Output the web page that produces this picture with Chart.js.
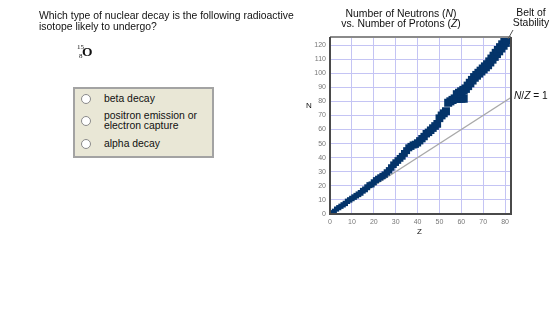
<!DOCTYPE html>
<html>
<head>
<meta charset="utf-8">
<script src="https://cdn.jsdelivr.net/npm/chart.js@4"></script>
<style>
  html, body { margin: 0; padding: 0; background: #fff; }
  #wrap { position: relative; width: 560px; height: 315px; overflow: hidden; font-family: "Liberation Sans", Arial, sans-serif; color: #111; }
  canvas { position: absolute; left: 0; top: 0; }
  .t { position: absolute; white-space: nowrap; }
  #question { left: 39px; top: 11px; font-size: 10.4px; line-height: 10.5px; }
  #iso { left: 77px; top: 43px; font-family: "Liberation Serif", serif; }
  #iso .sup { position: absolute; left: 0; top: 0; font-size: 7px; }
  #iso .sub { position: absolute; left: 2px; top: 9px; font-size: 7px; }
  #iso .el { position: absolute; left: 5px; top: 1px; font-size: 13.5px; font-weight: bold; }
  #box { position: absolute; left: 73px; top: 87px; width: 137px; height: 67px; background: #e9e7d6; border: 2px solid #a3a3a3; }
  .radio { position: absolute; width: 8px; height: 8px; border-radius: 50%; background: #fff; border: 1.5px solid #8a8a8a; }
  .opt { position: absolute; font-size: 10.4px; line-height: 10px; }
  #title { left: 336px; top: 9px; width: 130px; text-align: center; font-size: 10.4px; line-height: 10px; }
  #belt { left: 503px; top: 8px; width: 56px; text-align: center; font-size: 10.4px; line-height: 10px; }
  #nz { left: 514px; top: 90px; font-size: 10.2px; }
  #ntitle { left: 306px; top: 101px; font-size: 8px; }
  #ztitle { left: 417px; top: 227px; font-size: 8px; }
</style>
</head>
<body>
<div id="wrap">
  <canvas id="c" width="560" height="315"></canvas>
  <div class="t" id="question">Which type of nuclear decay is the following radioactive<br>isotope likely to undergo?</div>
  <div class="t" id="iso"><span class="sup">15</span><span class="sub">8</span><span class="el">O</span></div>
  <div id="box">
    <div class="radio" style="left:6px;top:4.5px"></div>
    <div class="opt" style="left:29px;top:5px">beta decay</div>
    <div class="radio" style="left:6px;top:26.5px"></div>
    <div class="opt" style="left:29px;top:22px">positron emission or<br>electron capture</div>
    <div class="radio" style="left:6px;top:49.5px"></div>
    <div class="opt" style="left:29px;top:50px">alpha decay</div>
  </div>
  <div class="t" id="title">Number of Neutrons (<i>N</i>)<br>vs. Number of Protons (<i>Z</i>)</div>
  <div class="t" id="belt">Belt of<br>Stability</div>
  <div class="t" id="nz"><i>N</i>/<i>Z</i> = 1</div>
  <div class="t" id="ntitle">N</div>
  <div class="t" id="ztitle">Z</div>
</div>
<script>
// Belt of stability: protons (Z) and neutrons (N)
const beltZ = [1,2,3,4,5,6,7,8,9,10,11,12,13,14,15,16,17,18,19,20,
  21,22,23,24,25,26,27,28,29,30,31,32,33,34,35,36,37,38,39,40,
  41,42,43,44,45,46,47,48,49,50,51,52,53,54,55,56,57,58,59,60,61,
  58,59,60,61,62,63,64,65,66,67,68,69,70,71,72,73,74,75,76,77,78,79,80,81,82];
const beltN = [1,2,3.5,4.5,5.5,6.5,7.5,9,10,11,12,13,14,15,16.5,17.5,19,20.5,21,22.5,
  24,25,26,27,28,29.5,31,33,35,36.5,38,39.5,41,43,45,47,48,49,49.5,50.5,
  52,53.5,55,57,58,59.5,61,62.5,64,68,70,71.5,73,79,80,81,82,82,82,82,82,
  85,86,87,88,89,91,93,95,97,98.5,100,101.5,103,104.5,106,108,110,112,114,116,118,120,122,124];
// N/Z = 1 reference line
const ratioZ = [0, 83];
const ratioN = [0, 83];
// Axis ticks
const zTicks = [0,10,20,30,40,50,60,70,80];
const nTicks = [0,10,20,30,40,50,60,70,80,90,100,110,120];

const beltData = beltZ.map((z, i) => ({x: z, y: beltN[i]}));
const ratioData = ratioZ.map((z, i) => ({x: z, y: ratioN[i]}));

const framePlugin = {
  id: 'frame',
  afterDraw(chart) {
    const {ctx, chartArea: a} = chart;
    ctx.save();
    ctx.strokeStyle = '#8a8a8a';
    ctx.lineWidth = 2;
    ctx.beginPath();
    ctx.moveTo(a.left, a.top); ctx.lineTo(a.right, a.top);
    ctx.stroke();
    ctx.strokeStyle = '#4a4a4a';
    ctx.beginPath();
    ctx.moveTo(a.right, a.top); ctx.lineTo(a.right, a.bottom);
    ctx.lineTo(a.left, a.bottom); ctx.lineTo(a.left, a.top);
    ctx.stroke();
    // pointer from "Belt of Stability" to the top of the belt
    ctx.strokeStyle = '#555';
    ctx.lineWidth = 1;
    ctx.beginPath();
    ctx.moveTo(a.right + 2, a.top - 7);
    ctx.lineTo(a.right - 3, a.top + 2);
    ctx.stroke();
    ctx.restore();
  }
};

new Chart(document.getElementById('c'), {
  type: 'scatter',
  data: {
    datasets: [
      {
        data: ratioData, showLine: true, borderColor: '#a9a9a9', borderWidth: 1.3,
        pointRadius: 0, order: 2
      },
      {
        data: beltData, pointStyle: 'rect', backgroundColor: '#04346a', borderColor: '#04346a',
        borderWidth: 0, order: 1,
        pointRadius: (c) => 3.5 + (c.raw ? c.raw.x : 0) * 0.04
      }
    ]
  },
  options: {
    responsive: false, animation: false, devicePixelRatio: 1,
    layout: { padding: { left: 300, top: 37, right: 49, bottom: 81 } },
    plugins: { legend: { display: false }, tooltip: { enabled: false } },
    scales: {
      x: {
        type: 'linear', min: 0, max: 82.7,
        afterFit: (s) => { s.height = 20; },
        afterBuildTicks: (s) => { s.ticks = zTicks.map(v => ({value: v})); },
        grid: { color: '#c4c4f4', lineWidth: 1, drawTicks: false },
        border: { display: false },
        ticks: { color: '#777', font: { family: 'Liberation Sans', size: 7 }, padding: 4, maxRotation: 0 }
      },
      y: {
        type: 'linear', min: 0, max: 125.7,
        afterFit: (s) => { s.width = 30; },
        afterBuildTicks: (s) => { s.ticks = nTicks.map(v => ({value: v})); },
        grid: { color: '#c4c4f4', lineWidth: 1, drawTicks: false },
        border: { display: false },
        ticks: { color: '#777', font: { family: 'Liberation Sans', size: 7 }, padding: 4 }
      }
    }
  },
  plugins: [framePlugin]
});
</script>
</body>
</html>
